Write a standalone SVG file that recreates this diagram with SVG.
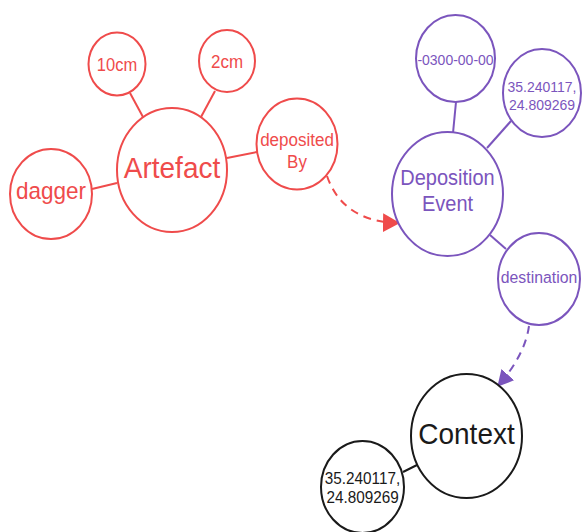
<svg xmlns="http://www.w3.org/2000/svg" width="582" height="532" viewBox="0 0 582 532">
  <defs>
    <marker id="arrow-red" viewBox="0 0 17 19" refX="16" refY="9.5" markerWidth="17" markerHeight="19" markerUnits="userSpaceOnUse" orient="auto">
      <path d="M0,0 L17,9.5 L0,19 z" fill="#ef4b4b"/>
    </marker>
    <marker id="arrow-purple" viewBox="0 0 16 17" refX="15" refY="8.5" markerWidth="16" markerHeight="17" markerUnits="userSpaceOnUse" orient="auto">
      <path d="M0,0 L16,8.5 L0,17 z" fill="#7b55bd"/>
    </marker>
    <style>
      .n { fill: #ffffff; stroke-width: 2; }
      .red .n { stroke: #ef4b4b; }
      .red text { fill: #ef4b4b; }
      .purple .n { stroke: #7b55bd; }
      .purple text { fill: #7b55bd; }
      .black .n { stroke: #1a1a1a; }
      .black text { fill: #1a1a1a; }
      text { font-family: "Liberation Sans", Arial, sans-serif; text-anchor: middle; }
      .edge { fill: none; stroke-width: 2; }
      .e-red { stroke: #ef4b4b; }
      .e-purple { stroke: #7b55bd; }
      .e-black { stroke: #1a1a1a; }
      .dash { stroke-dasharray: 8 6; }
    </style>
  </defs>

  <g id="connectors">
    <line class="edge e-red" x1="130" y1="93" x2="143" y2="117"/>
    <line class="edge e-red" x1="215" y1="91" x2="201" y2="117"/>
    <line class="edge e-red" x1="257" y1="152" x2="227" y2="158"/>
    <line class="edge e-red" x1="92" y1="189" x2="117" y2="183"/>
    <path class="edge e-red dash" d="M327,176 Q343,222 399,223" marker-end="url(#arrow-red)"/>
    <line class="edge e-purple" x1="456" y1="102" x2="453" y2="133"/>
    <line class="edge e-purple" x1="511" y1="121" x2="487" y2="148"/>
    <line class="edge e-purple" x1="506" y1="249" x2="490" y2="235"/>
    <path class="edge e-purple dash" d="M529,326 Q525,355 498,386" marker-end="url(#arrow-purple)"/>
    <line class="edge e-black" x1="417" y1="465" x2="403" y2="472"/>
  </g>

  <!-- labels are drawn slightly taller than wide -->
  <g id="node-10cm" class="red">
    <ellipse class="n" cx="117" cy="64" rx="28.5" ry="31.5"/>
    <text transform="translate(117,71) scale(1,1.07)" font-size="16.5">10cm</text>
  </g>
  <g id="node-2cm" class="red">
    <ellipse class="n" cx="227" cy="61" rx="28" ry="31"/>
    <text transform="translate(227,68) scale(1,1.07)" font-size="17">2cm</text>
  </g>
  <g id="node-artefact" class="red">
    <ellipse class="n" cx="172" cy="170" rx="55" ry="62"/>
    <text transform="translate(172,178) scale(1,1.07)" font-size="28">Artefact</text>
  </g>
  <g id="node-dagger" class="red">
    <ellipse class="n" cx="51" cy="194" rx="41" ry="45"/>
    <text transform="translate(51,199) scale(1,1.07)" font-size="22.5">dagger</text>
  </g>
  <g id="node-depositedBy" class="red">
    <ellipse class="n" cx="297" cy="144" rx="40.5" ry="45.5"/>
    <text transform="translate(297,146) scale(1,1.07)" font-size="17">deposited</text>
    <text transform="translate(297,168) scale(1,1.07)" font-size="17">By</text>
  </g>

  <g id="node-date" class="purple">
    <ellipse class="n" cx="455.5" cy="58.5" rx="39.5" ry="43.5"/>
    <text transform="translate(455.5,65) scale(1,1.07)" font-size="14">-0300-00-00</text>
  </g>
  <g id="node-coords-event" class="purple">
    <ellipse class="n" cx="542" cy="93" rx="39" ry="44"/>
    <text transform="translate(542,92) scale(1,1.07)" font-size="14">35.240117,</text>
    <text transform="translate(542,110) scale(1,1.07)" font-size="14">24.809269</text>
  </g>
  <g id="node-deposition-event" class="purple">
    <ellipse class="n" cx="447.5" cy="194" rx="55.5" ry="62"/>
    <text transform="translate(447.5,185) scale(1,1.07)" font-size="20">Deposition</text>
    <text transform="translate(447.5,211) scale(1,1.07)" font-size="20">Event</text>
  </g>
  <g id="node-destination" class="purple">
    <ellipse class="n" cx="539" cy="279" rx="41" ry="46"/>
    <text transform="translate(539,283) scale(1,1.07)" font-size="15.8">destination</text>
  </g>

  <g id="node-context" class="black">
    <ellipse class="n" cx="466.5" cy="436" rx="55.5" ry="62"/>
    <text transform="translate(466.5,444) scale(1,1.07)" font-size="28">Context</text>
  </g>
  <g id="node-coords-context" class="black">
    <ellipse class="n" cx="362.5" cy="487" rx="41.5" ry="46"/>
    <text transform="translate(362.5,484) scale(1,1.07)" font-size="15.3">35.240117,</text>
    <text transform="translate(362.5,503) scale(1,1.07)" font-size="15.3">24.809269</text>
  </g>
</svg>
